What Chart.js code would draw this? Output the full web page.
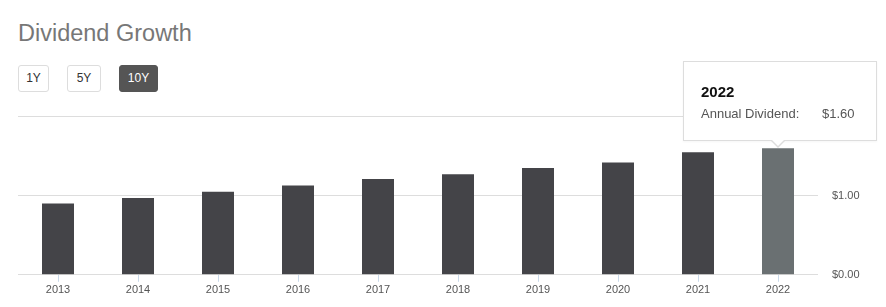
<!DOCTYPE html>
<html>
<head>
<meta charset="utf-8">
<script src="https://cdn.jsdelivr.net/npm/chart.js@4"></script>
<style>
  html, body { margin: 0; padding: 0; background: #fff; }
  body { width: 886px; height: 307px; position: relative; overflow: hidden;
         font-family: "Liberation Sans", Arial, Helvetica, sans-serif; }
  #title { position: absolute; left: 18px; top: 20px; font-size: 23.5px; color: #777; font-weight: 400; white-space: nowrap; }
  .btn { position: absolute; top: 65px; height: 25px; border: 1px solid #ddd; border-radius: 3px;
         font-size: 12px; color: #333; line-height: 25px; text-align: center; background: #fff; }
  .btn.active { background: #555; color: #fff; border-color: #555; }
  #wrap { position: absolute; left: 0; top: 96px; width: 886px; height: 203px; }
  #tip { position: absolute; background: #fff; border: 1px solid #ddd; box-sizing: border-box;
         width: 194px; height: 80px; box-shadow: 0 1px 2px rgba(0,0,0,0.04); }
  #tip .t { position: absolute; left: 17px; top: 21px; font-size: 15px; font-weight: 700; color: #111; }
  #tip .l { position: absolute; left: 17px; top: 44px; font-size: 13px; color: #555; }
  #tip .v { position: absolute; left: 138px; top: 44px; font-size: 13px; color: #555; }
  #caret, #caret2 { position: absolute; width: 0; height: 0; }
</style>
</head>
<body>
<div id="title">Dividend Growth</div>
<div class="btn" style="left:18px;width:29px;">1Y</div>
<div class="btn" style="left:67px;width:32px;">5Y</div>
<div class="btn active" style="left:119px;width:37px;">10Y</div>
<div id="wrap"><canvas id="c"></canvas></div>
<div id="tip"><div class="t"></div><div class="l">Annual Dividend:</div><div class="v"></div></div>
<div id="caret"></div><div id="caret2"></div>
<script>
const categories = ["2013","2014","2015","2016","2017","2018","2019","2020","2021","2022"];
const dividends = [0.90, 0.97, 1.05, 1.13, 1.21, 1.27, 1.35, 1.42, 1.55, 1.60];
const yTicks = [0, 1, 2];
const activeIndex = categories.length - 1;
const seriesLabel = "Annual Dividend";

const baseColor = '#444448';
const hoverColor = '#6a7072';

const chart = new Chart(document.getElementById('c'), {
  type: 'bar',
  data: {
    labels: categories,
    datasets: [{
      label: seriesLabel,
      data: dividends,
      backgroundColor: dividends.map((v, i) => i === activeIndex ? hoverColor : baseColor),
      borderWidth: 0,
      barPercentage: 0.4,
      categoryPercentage: 1.0
    }]
  },
  options: {
    responsive: true,
    maintainAspectRatio: false,
    animation: false,
    events: [],
    layout: { padding: { left: 18, top: 12, right: 0, bottom: 0 } },
    plugins: { legend: { display: false }, tooltip: { enabled: false } },
    scales: {
      x: {
        offset: true,
        grid: { offset: false, drawOnChartArea: false, drawTicks: true, tickLength: 7, color: '#c9d9ea' },
        border: { display: false },
        ticks: { color: '#555', font: { size: 11, family: '"Liberation Sans", Arial, sans-serif' }, padding: 2, maxRotation: 0 }
      },
      y: {
        position: 'right',
        min: 0, max: 2,
        afterBuildTicks: (s) => { s.ticks = yTicks.map(v => ({ value: v })); },
        afterFit: (s) => { s.width = 68; },
        grid: { color: '#dddddd', drawTicks: false, lineWidth: 1 },
        border: { display: false },
        ticks: { color: '#555', padding: 14, font: { size: 11, family: '"Liberation Sans", Arial, sans-serif' },
                 callback: (v) => '$' + Number(v).toFixed(2) }
      }
    }
  }
});

(function placeTooltip() {
  const el = chart.getDatasetMeta(0).data[activeIndex];
  const wrap = document.getElementById('wrap');
  const bx = wrap.offsetLeft + el.x, by = wrap.offsetTop + el.y;
  const tip = document.getElementById('tip');
  tip.querySelector('.t').textContent = categories[activeIndex];
  tip.querySelector('.v').textContent = '$' + dividends[activeIndex].toFixed(2);
  const tipH = 80, caretH = 6;
  const tipTop = by - 1 - caretH - tipH;
  tip.style.left = (bx - 95) + 'px';
  tip.style.top = tipTop + 'px';
  const c1 = document.getElementById('caret');
  c1.style.left = (bx - 7) + 'px'; c1.style.top = (tipTop + tipH) + 'px';
  c1.style.borderLeft = '7px solid transparent'; c1.style.borderRight = '7px solid transparent';
  c1.style.borderTop = '7px solid #ddd';
  const c2 = document.getElementById('caret2');
  c2.style.left = (bx - 6) + 'px'; c2.style.top = (tipTop + tipH - 1) + 'px';
  c2.style.borderLeft = '6px solid transparent'; c2.style.borderRight = '6px solid transparent';
  c2.style.borderTop = '6px solid #fff';
})();
</script>
</body>
</html>
